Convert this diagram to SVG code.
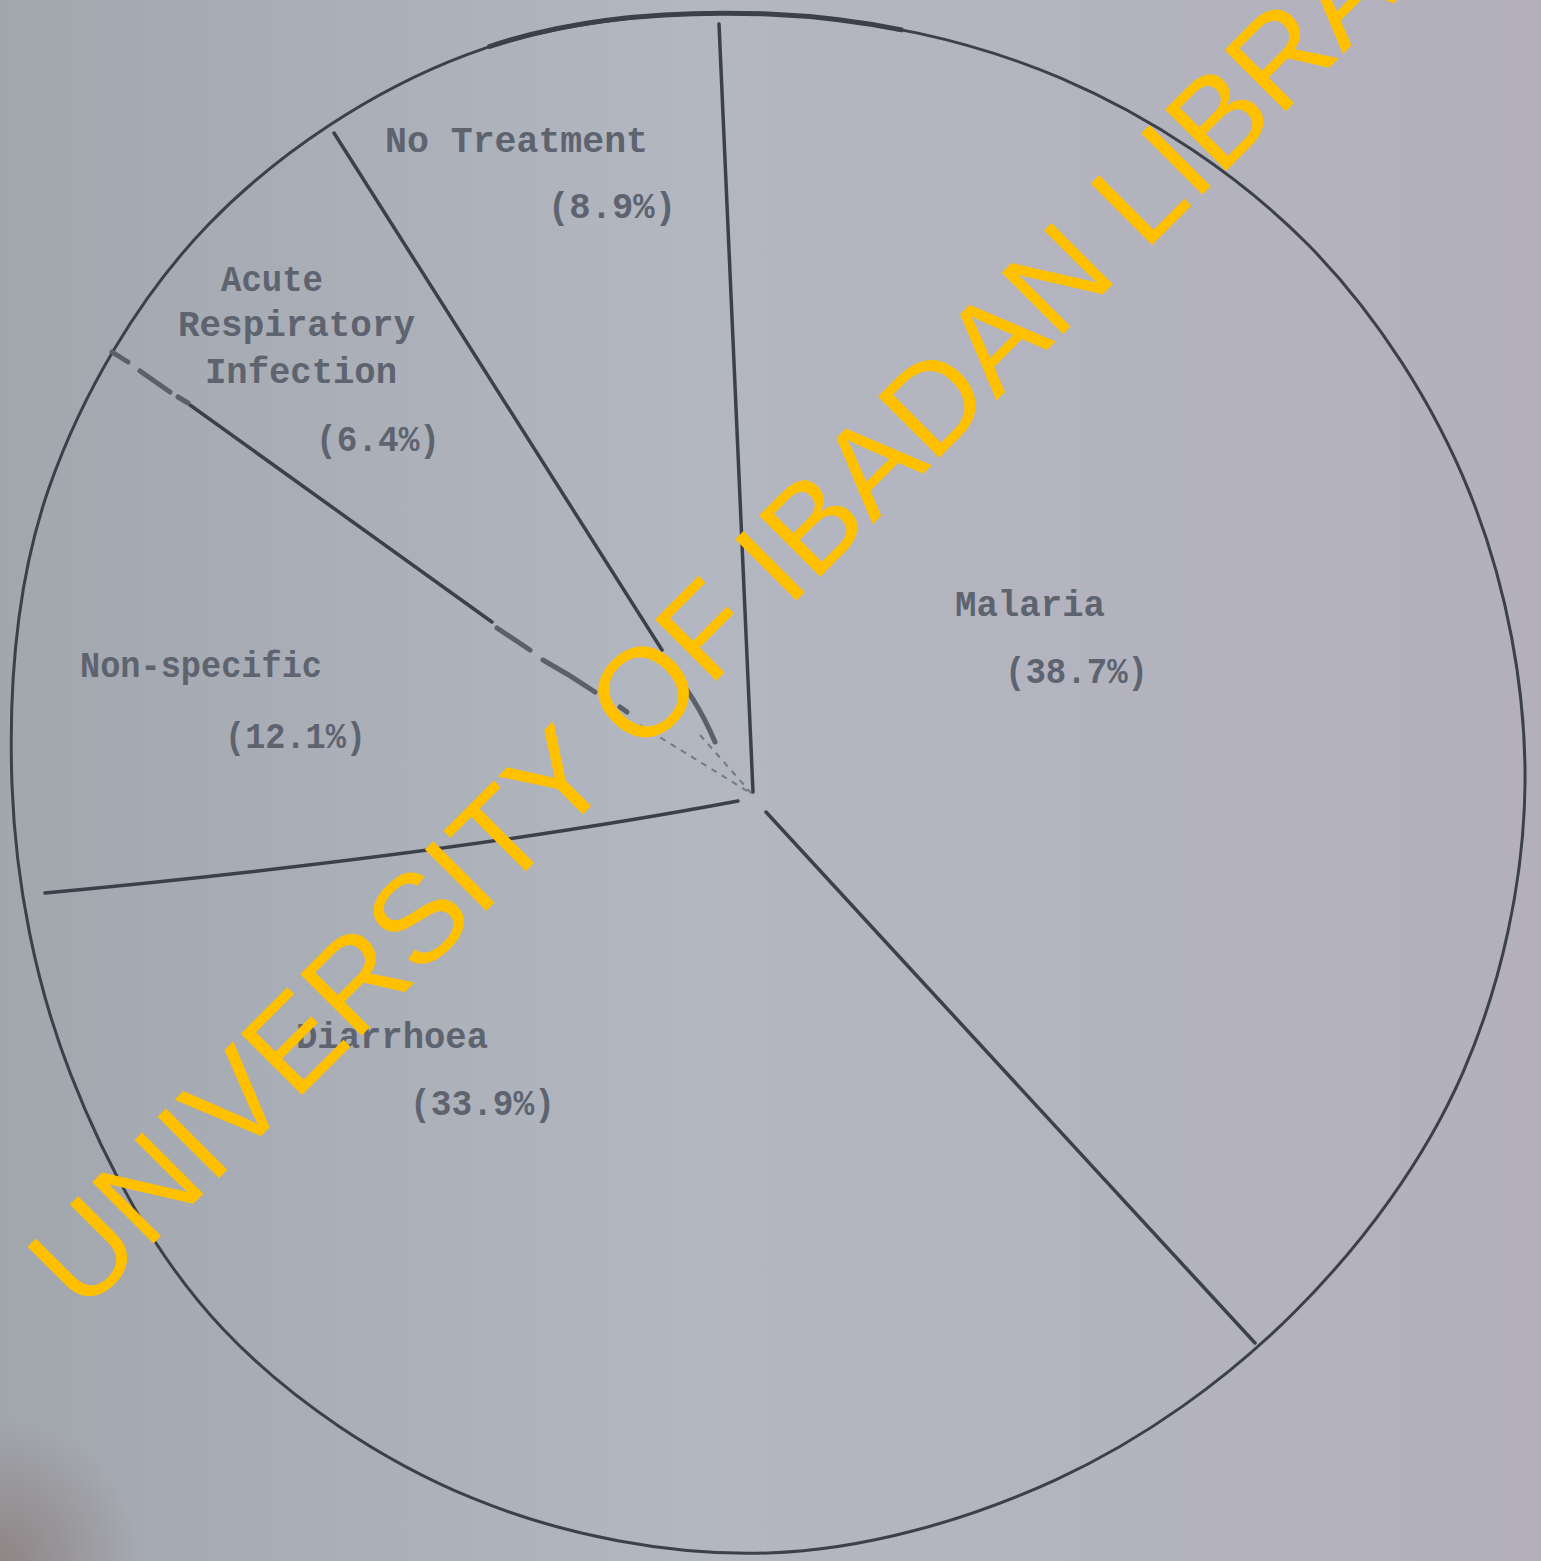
<svg xmlns="http://www.w3.org/2000/svg" width="1541" height="1561" viewBox="0 0 1541 1561">
  <defs>
    <linearGradient id="bg" x1="0" y1="0" x2="1" y2="0">
      <stop offset="0" stop-color="#a2a6ad"/>
      <stop offset="0.45" stop-color="#b3b7c1"/>
      <stop offset="1" stop-color="#b3b0bc"/>
    </linearGradient>
    <radialGradient id="corner" cx="0" cy="1" r="0.09">
      <stop offset="0" stop-color="#8a7f7e" stop-opacity="0.85"/>
      <stop offset="1" stop-color="#8a7f7e" stop-opacity="0"/>
    </radialGradient>
    <style>
      .outline { fill: none; stroke: #3b4049; stroke-width: 3; }
      .line { fill: none; stroke: #3b4049; stroke-width: 3.5; stroke-linecap: round; }
      .faint { fill: none; stroke: #5a5f69; stroke-width: 2; stroke-dasharray: 6 6; opacity: 0.7; }
      .dash { fill: none; stroke: #5b606b; stroke-width: 5; stroke-linecap: round; }
      .lbl { font-family: "Liberation Mono", "DejaVu Sans Mono", monospace; font-weight: 700; font-size: 36px; fill: #5e6370; }
      .wm { font-family: "Liberation Sans", Arial, sans-serif; font-size: 126px; fill: #ffc000; }
    </style>
  </defs>
  <rect width="1541" height="1561" fill="url(#bg)"/>
  <rect width="1541" height="1561" fill="url(#corner)"/>

  <g id="pie-outline">
    <path class="outline" d="M1525,785 C1523.8,881.5 1501.2,985 1462.8,1072.8 C1424.4,1160.6 1362.6,1244 1294.8,1311.8 C1227,1379.6 1143.6,1439.6 1055.8,1479.8 C968,1520 865.2,1549.9 768,1553 C670.8,1556.1 563.4,1535.5 472.6,1498.2 C381.9,1461 290.5,1400.2 223.5,1329.5 C156.5,1258.8 105.8,1164.7 70.5,1073.9 C35.3,983.2 15.6,882.8 12,785 C8.5,687.2 16.5,580.6 49.2,487.3 C81.9,394 138.6,297 208,225 C277.4,153 372.4,90.3 465.7,55.1 C559,19.9 668.8,10.2 768,14 C867.2,17.9 970.8,39.7 1060.8,78.2 C1150.8,116.7 1240,175.5 1308.2,244.8 C1376.4,314.1 1434.1,404.1 1470.2,494.1 C1506.3,584.1 1526.2,688.6 1525,785 Z"/>
    <path d="M488,47 C570,19 668.8,10.2 768,14 C812.6,15.8 858.1,21.2 902.9,30.1" fill="none" stroke="#3b4049" stroke-width="5"/>
  </g>

  <g id="connectors">
    <path class="line" d="M719,24 L753,792"/>
    <path class="line" d="M766,812 L1255,1343"/>
    <path class="line" d="M45,893 Q450,855 738,801"/>
    <path class="line" d="M334,133 L662,650"/>
    <path class="dash" d="M668,667 Q695,695 715,742"/>
    <path class="line" d="M190,405 L492,622"/>
    <path class="dash" d="M112,352 L128,362 M140,371 L170,392 M178,397 L188,403" stroke-width="4"/>
    <path class="dash" d="M497,628 L530,650 M543,660 Q570,675 595,692 M620,707 L627,712"/>
    <path class="faint" d="M640,725 L752,794"/>
    <path class="faint" d="M700,735 L752,794"/>
  </g>

  <g id="label-no-treatment">
    <text class="lbl" x="385" y="152" textLength="263" lengthAdjust="spacingAndGlyphs">No Treatment</text>
    <text class="lbl" x="548" y="218" textLength="128" lengthAdjust="spacingAndGlyphs">(8.9%)</text>
  </g>
  <g id="label-ari">
    <text class="lbl" x="221" y="291" textLength="102" lengthAdjust="spacingAndGlyphs">Acute</text>
    <text class="lbl" x="178" y="336" textLength="237" lengthAdjust="spacingAndGlyphs">Respiratory</text>
    <text class="lbl" x="205" y="383" textLength="192" lengthAdjust="spacingAndGlyphs">Infection</text>
    <text class="lbl" x="316" y="451" textLength="124" lengthAdjust="spacingAndGlyphs">(6.4%)</text>
  </g>
  <g id="label-non-specific">
    <text class="lbl" x="80" y="677" textLength="242" lengthAdjust="spacingAndGlyphs">Non-specific</text>
    <text class="lbl" x="225" y="748" textLength="141" lengthAdjust="spacingAndGlyphs">(12.1%)</text>
  </g>
  <g id="label-malaria">
    <text class="lbl" x="955" y="616" textLength="150" lengthAdjust="spacingAndGlyphs">Malaria</text>
    <text class="lbl" x="1005" y="683" textLength="143" lengthAdjust="spacingAndGlyphs">(38.7%)</text>
  </g>
  <g id="label-diarrhoea">
    <text class="lbl" x="296" y="1048" textLength="192" lengthAdjust="spacingAndGlyphs">Diarrhoea</text>
    <text class="lbl" x="410" y="1115" textLength="145" lengthAdjust="spacingAndGlyphs">(33.9%)</text>
  </g>

  <g id="watermark">
    <text class="wm" x="82" y="1315" transform="rotate(-45 82 1315)">UNIVERSITY OF IBADAN LIBRARY</text>
  </g>
</svg>
